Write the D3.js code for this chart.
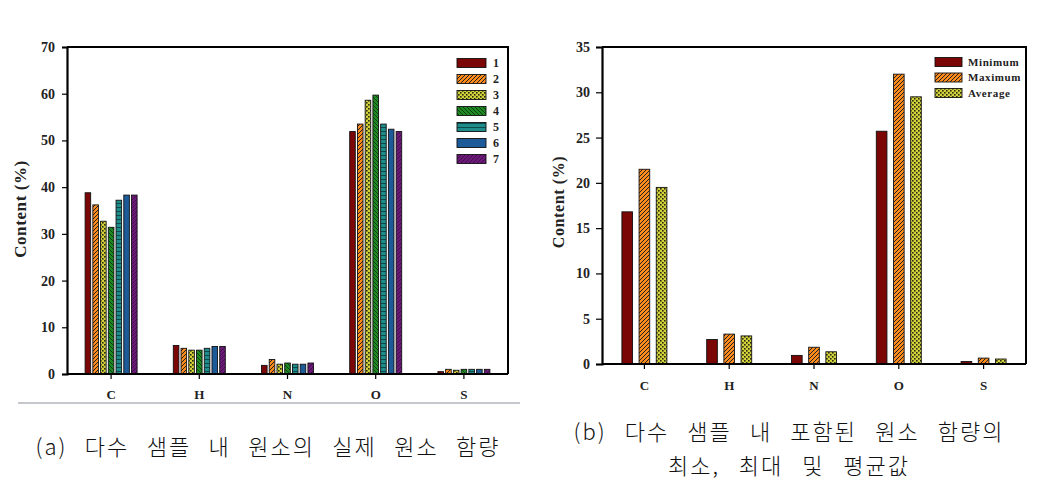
<!DOCTYPE html>
<html><head><meta charset="utf-8">
<script src="https://cdn.jsdelivr.net/npm/d3@7"></script>
<style>
html,body{margin:0;padding:0;background:#fff;}
svg{display:block;}
</style></head>
<body>
<svg id="c" width="1042" height="492"></svg>
<script>
const categories = ["C","H","N","O","S"];
// Chart (a): 7 samples
const samples = ["1","2","3","4","5","6","7"];
const sample1 = [38.8, 6.1, 1.85, 51.9, 0.5];
const sample2 = [36.2, 5.5, 3.1, 53.5, 1.0];
const sample3 = [32.7, 5.1, 2.1, 58.6, 0.8];
const sample4 = [31.4, 5.1, 2.35, 59.7, 1.0];
const sample5 = [37.2, 5.5, 2.1, 53.5, 1.0];
const sample6 = [38.3, 5.9, 2.1, 52.4, 1.0];
const sample7 = [38.3, 5.9, 2.35, 51.9, 1.0];
const ticksA = [0,10,20,30,40,50,60,70];
// Chart (b): min / max / average
const statNames = ["Minimum","Maximum","Average"];
const minimum = [16.8, 2.7, 0.95, 25.7, 0.28];
const maximum = [21.5, 3.3, 1.85, 32.0, 0.65];
const average = [19.5, 3.1, 1.35, 29.5, 0.55];
const ticksB = [0,5,10,15,20,25,30,35];
const captionA = "(a) 다수 샘플 내 원소의 실제 원소 함량";
const captionB1 = "(b) 다수 샘플 내 포함된 원소 함량의";
const captionB2 = "최소, 최대 및 평균값";

const svg = d3.select("#c");
const defs = svg.append("defs");
const SERIF = "'Liberation Serif','DejaVu Serif',serif";
const KR = "'Noto Sans CJK KR','Noto Sans',sans-serif";

function pat(id, bg, draw, size) {
  const p = defs.append("pattern").attr("id", id).attr("patternUnits","userSpaceOnUse")
    .attr("width", size).attr("height", size);
  p.append("rect").attr("width", size).attr("height", size).attr("fill", bg);
  draw(p, size);
}
pat("p1", "#7a0606", ()=>{}, 4);
pat("p2", "#ff8a1c", (p,s)=>{ p.append("path").attr("d",`M0,${s} L${s},0 M${-s/2},${s/2} L${s/2},${-s/2} M${s/2},${s*1.5} L${s*1.5},${s/2}`).attr("stroke","#222").attr("stroke-width",1); }, 4);
pat("p3", "#d2d23a", (p,s)=>{ p.append("rect").attr("x",0).attr("y",0).attr("width",1.6).attr("height",1.6).attr("fill","#2a2a10"); p.append("rect").attr("x",2).attr("y",2).attr("width",1.6).attr("height",1.6).attr("fill","#2a2a10"); }, 4);
pat("p4", "#1e8a22", (p,s)=>{ p.append("path").attr("d",`M0,0 L${s},${s} M${-s/2},${s/2} L${s/2},${s*1.5} M${s/2},${-s/2} L${s*1.5},${s/2}`).attr("stroke","#0d3d10").attr("stroke-width",1); }, 4);
pat("p5", "#1f8c8c", (p,s)=>{ p.append("line").attr("x1",0).attr("x2",s).attr("y1",s-0.5).attr("y2",s-0.5).attr("stroke","#0e4a4a").attr("stroke-width",1); }, 4);
pat("p6", "#1d5a98", ()=>{}, 4);
pat("p7", "#6b1a78", (p,s)=>{ p.append("path").attr("d",`M0,${s} L${s},0 M${-s/2},${s/2} L${s/2},${-s/2} M${s/2},${s*1.5} L${s*1.5},${s/2}`).attr("stroke","#3a0a42").attr("stroke-width",0.8); }, 4);
const fillsA = ["url(#p1)","url(#p2)","url(#p3)","url(#p4)","url(#p5)","url(#p6)","url(#p7)"];
const fillsB = ["url(#p1)","url(#p2)","url(#p3)"];

function drawChart(cfg) {
  const {left, right, top, bottom, ymax, ticks, series, names, fills, groupW, pad, titleX, catY, legend} = cfg;
  const g = svg.append("g");
  const x = d3.scaleBand().domain(categories).range([left, right]);
  const y = d3.scaleLinear().domain([0, ymax]).range([bottom, top]);
  const x1 = d3.scaleBand().domain(names).range([-groupW/2, groupW/2]).paddingInner(pad);
  names.forEach((n, i) => {
    g.append("g").selectAll("rect").data(series[i]).join("rect")
      .attr("x", (d, j) => x(categories[j]) + x.bandwidth()/2 + x1(n))
      .attr("y", d => y(d))
      .attr("width", x1.bandwidth())
      .attr("height", d => y(0) - y(d))
      .attr("fill", fills[i]).attr("stroke", "#111").attr("stroke-width", 0.9);
  });
  g.append("path").attr("d", `M${left},${top} H${right} V${bottom}`).attr("fill","none").attr("stroke","#000").attr("stroke-width",2);
  const ya = g.append("g").attr("transform", `translate(${left},0)`)
    .call(d3.axisLeft(y).tickValues(ticks).tickSize(cfg.tickLen).tickPadding(cfg.tickPad).tickFormat(d3.format("d")));
  ya.select(".domain").attr("stroke-width", 2.2);
  ya.selectAll(".tick line").attr("stroke-width", 1.2);
  ya.selectAll("text").attr("font-family", SERIF).attr("font-weight","bold").attr("font-size", 14).attr("fill","#222");
  const xa = g.append("g").attr("transform", `translate(0,${bottom})`)
    .call(d3.axisBottom(x).tickSize(5).tickPadding(8));
  xa.select(".domain").attr("d", `M${left},0 H${right}`).attr("stroke-width", 2.2);
  xa.selectAll(".tick line").attr("stroke-width", 1.2);
  xa.selectAll("text").attr("font-family", SERIF).attr("font-weight","bold").attr("font-size", 13).attr("fill","#222")
    .attr("y", catY - bottom).attr("dy", "0.35em");
  g.append("text").attr("transform", `translate(${titleX},${cfg.titleY}) rotate(-90)`)
    .attr("text-anchor","middle").attr("dy","0.35em")
    .attr("font-family", SERIF).attr("font-weight","bold").attr("font-size", cfg.titleFs)
    .attr("letter-spacing", 0.6).attr("fill","#222")
    .text("Content (%)");
  const lg = g.append("g");
  names.forEach((n, i) => {
    const yy = legend.y + i * legend.step;
    lg.append("rect").attr("x", legend.x).attr("y", yy - legend.h/2).attr("width", legend.w).attr("height", legend.h)
      .attr("fill", fills[i]).attr("stroke","#111").attr("stroke-width",0.9);
    lg.append("text").attr("x", legend.x + legend.w + legend.gap).attr("y", yy).attr("dy","0.35em")
      .attr("font-family", SERIF).attr("font-weight","bold").attr("font-size", legend.fs)
      .attr("letter-spacing", legend.ls).attr("fill","#222").text(n);
  });
}

drawChart({
  left: 67, right: 508, top: 47, bottom: 374, ymax: 70, ticks: ticksA,
  series: [sample1,sample2,sample3,sample4,sample5,sample6,sample7], names: samples, fills: fillsA,
  groupW: 52, pad: 0.28, tickLen: 5, tickPad: 7, titleX: 20, titleY: 209, titleFs: 17, catY: 394,
  legend: {x: 457, y: 63, step: 16, w: 29, h: 9, gap: 7, fs: 12, ls: 0}
});
drawChart({
  left: 602, right: 1026, top: 47, bottom: 364, ymax: 35, ticks: ticksB,
  series: [minimum, maximum, average], names: statNames, fills: fillsB,
  groupW: 45, pad: 0.38, tickLen: 6, tickPad: 6, titleX: 558, titleY: 202, titleFs: 16, catY: 385,
  legend: {x: 935, y: 62, step: 15.5, w: 27, h: 9, gap: 6, fs: 11, ls: 0.6}
});

svg.append("line").attr("x1", 18).attr("x2", 520).attr("y1", 403).attr("y2", 403).attr("stroke","#8a8f99").attr("stroke-width",1);

function caption(text, cx, cy, target) {
  const t = svg.append("text").attr("x", cx).attr("y", cy).attr("dy","0.35em").attr("text-anchor","middle")
    .attr("font-family", KR).attr("font-weight", 300).attr("font-size", 22).attr("letter-spacing", 2)
    .attr("fill","#111").text(text);
  const w = t.node().getComputedTextLength();
  const nSp = (text.match(/ /g) || []).length;
  if (nSp > 0) t.attr("word-spacing", Math.max(0, (target - w) / nSp));
}
caption(captionA, 268, 447, 465);
caption(captionB1, 789, 432, 431);
caption(captionB2, 789, 466, 242);
</script>
</body></html>
